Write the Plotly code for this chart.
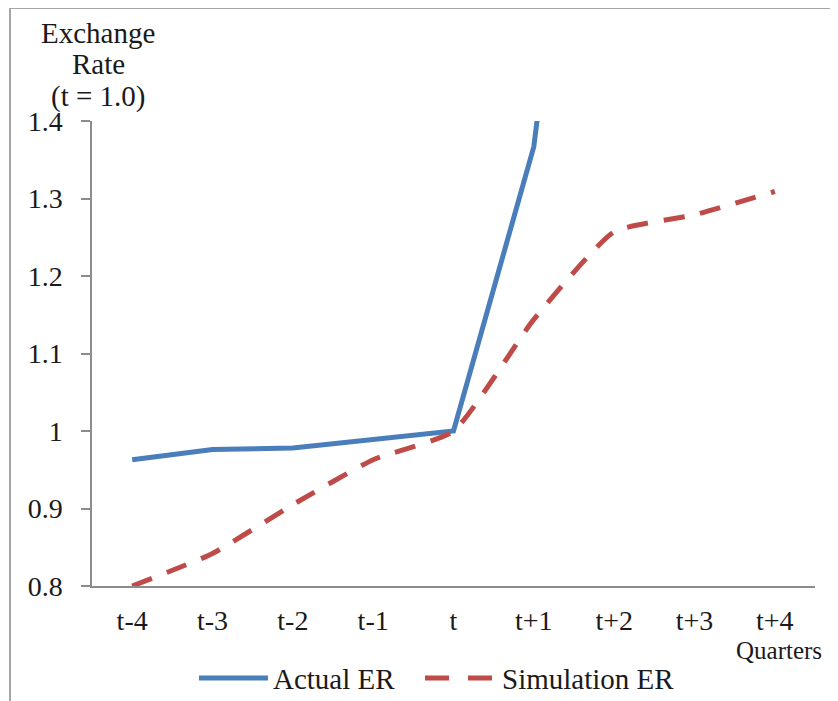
import plotly.graph_objects as go

categories = ["t-4", "t-3", "t-2", "t-1", "t", "t+1", "t+2", "t+3", "t+4"]
actual_er = [0.963, 0.976, 0.978, 0.989, 1.000, 1.367, 2.2]
simulation_er = [0.800, 0.842, 0.905, 0.963, 1.000, 1.144, 1.257, 1.279, 1.309]
y_ticks = [0.8, 0.9, 1.0, 1.1, 1.2, 1.3, 1.4]
y_tick_text = ["0.8", "0.9", "1", "1.1", "1.2", "1.3", "1.4"]

OFF = 8  # page body margin
W, H = 830, 693
L, R, T, B = 92 - OFF, 815 - OFF, 121 - OFF, 586 - OFF  # plot area in figure pixels
FONT = "Liberation Serif"
BLUE = "#4a7ebb"
RED = "#be4b48"
AXIS = "#8c8c8c"
TXT = "#1a1a1a"


def xp(px):
    px -= OFF
    return (px - L) / (R - L)


def yp(py):
    py -= OFF
    return (B - py) / (B - T)


fig = go.Figure()
fig.add_trace(go.Scatter(x=categories[:len(actual_er)], y=actual_er, mode="lines",
                         name="Actual ER", line=dict(color=BLUE, width=5),
                         showlegend=False))
fig.add_trace(go.Scatter(x=categories, y=simulation_er, mode="lines",
                         name="Simulation ER",
                         line=dict(color=RED, width=5, dash="21px,16px",
                                   shape="spline", smoothing=0.5),
                         showlegend=False))

fig.update_layout(
    width=W, height=H,
    margin=dict(l=L, r=W - R, t=T, b=H - B, pad=0),
    paper_bgcolor="white", plot_bgcolor="white",
    font=dict(family=FONT, size=28, color=TXT),
    xaxis=dict(type="category", categoryorder="array", categoryarray=categories,
               range=[-0.5, len(categories) - 0.5], showgrid=False, zeroline=False,
               showline=True, linecolor=AXIS, linewidth=1.5, ticks="",
               ticklabelstandoff=9, tickfont=dict(family=FONT, size=28, color=TXT)),
    yaxis=dict(range=[0.8, 1.4], tickvals=y_ticks, ticktext=y_tick_text,
               showgrid=False, zeroline=False, showline=True, linecolor=AXIS,
               linewidth=1.5, ticks="outside", ticklen=9, tickcolor=AXIS,
               tickwidth=1.5, ticklabelstandoff=13,
               tickfont=dict(family=FONT, size=28, color=TXT)),
    showlegend=False,
)

# chart border (left and top edges visible)
fig.add_shape(type="line", xref="paper", yref="paper", x0=xp(10), x1=xp(10),
              y0=yp(8), y1=yp(712), line=dict(color="#a6a6a6", width=2))
fig.add_shape(type="line", xref="paper", yref="paper", x0=xp(10), x1=xp(850),
              y0=yp(8), y1=yp(8), line=dict(color="#a6a6a6", width=2))

# y-axis title
for txt, cy in [("Exchange", 33), ("Rate", 64), ("(t = 1.0)", 96)]:
    fig.add_annotation(text=txt, xref="paper", yref="paper", x=xp(98), y=yp(cy),
                       xanchor="center", yanchor="middle", showarrow=False,
                       font=dict(family=FONT, size=29, color=TXT))

# x-axis unit label
fig.add_annotation(text="Quarters", xref="paper", yref="paper", x=xp(779), y=yp(650),
                   xanchor="center", yanchor="middle", showarrow=False,
                   font=dict(family=FONT, size=25, color=TXT))

# legend
fig.add_shape(type="line", xref="paper", yref="paper", x0=xp(199), x1=xp(268),
              y0=yp(678), y1=yp(678), line=dict(color=BLUE, width=5))
fig.add_annotation(text="Actual ER", xref="paper", yref="paper", x=xp(271), y=yp(679),
                   xanchor="left", yanchor="middle", showarrow=False,
                   font=dict(family=FONT, size=29, color=TXT))
fig.add_shape(type="line", xref="paper", yref="paper", x0=xp(425), x1=xp(492),
              y0=yp(678), y1=yp(678), line=dict(color=RED, width=5, dash="24px,19px"))
fig.add_annotation(text="Simulation ER", xref="paper", yref="paper", x=xp(500), y=yp(679),
                   xanchor="left", yanchor="middle", showarrow=False,
                   font=dict(family=FONT, size=29, color=TXT))

fig.write_html("out.html")
